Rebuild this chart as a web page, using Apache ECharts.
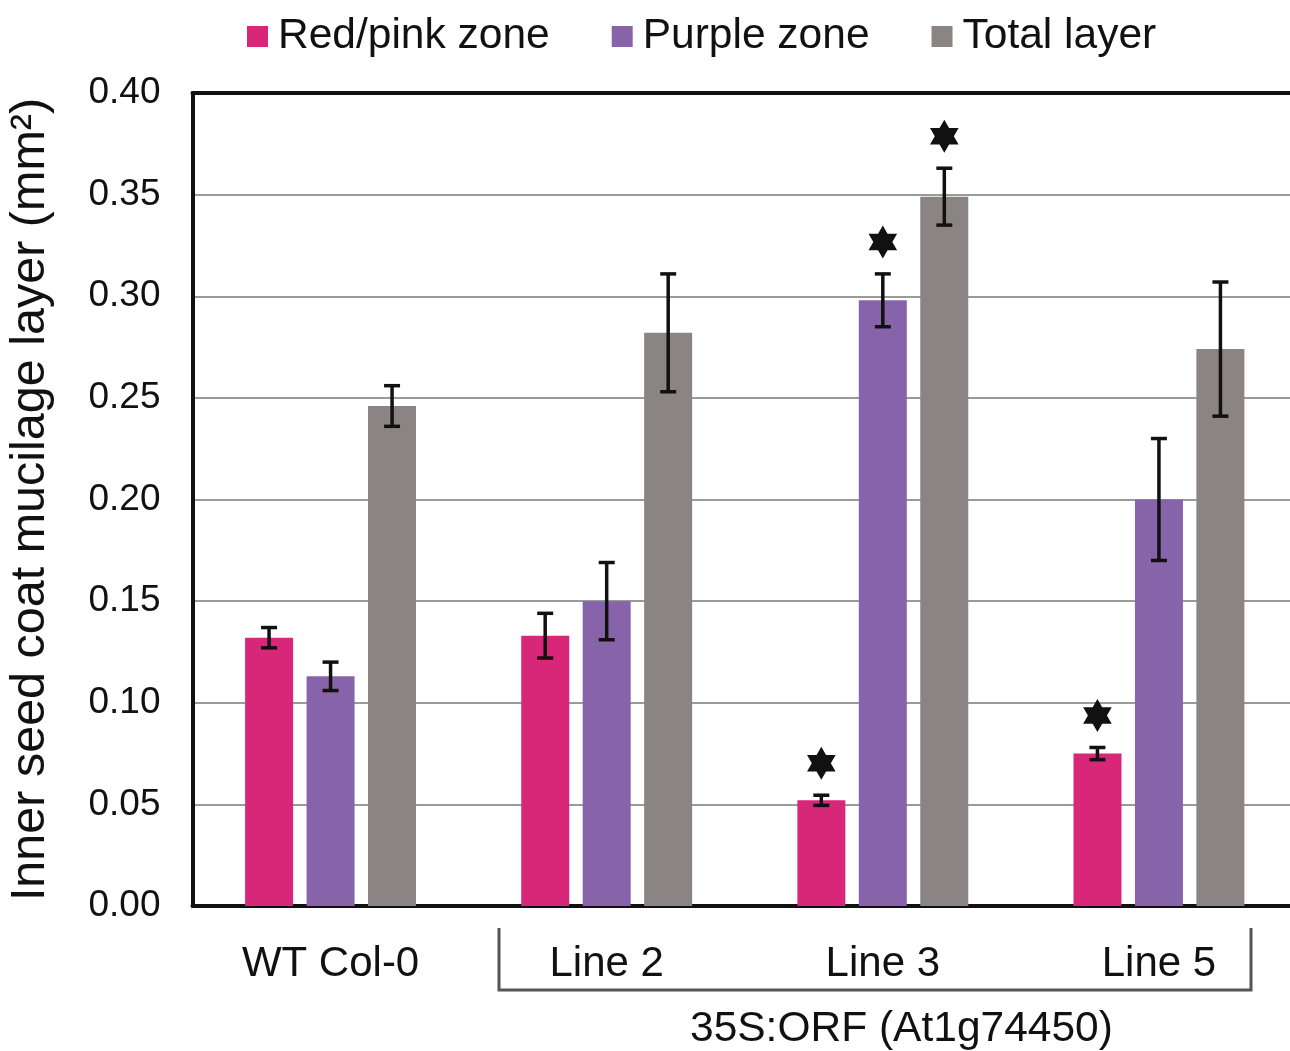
<!DOCTYPE html>
<html>
<head>
<meta charset="utf-8">
<script src="https://cdn.jsdelivr.net/npm/echarts@6/dist/echarts.min.js"></script>
<style>
  html, body { margin: 0; padding: 0; background: #ffffff; }
  #chart { width: 1290px; height: 1051px; }
</style>
</head>
<body>
<div id="chart"></div>
<script>
// data
const categories = ["WT Col-0", "Line 2", "Line 3", "Line 5"];
const seriesNames = ["Red/pink zone", "Purple zone", "Total layer"];
const pinkValues = [0.132, 0.133, 0.052, 0.075];
const purpleValues = [0.113, 0.150, 0.298, 0.200];
const totalValues = [0.246, 0.282, 0.349, 0.274];
const pinkErrors = [0.005, 0.011, 0.0025, 0.003];
const purpleErrors = [0.007, 0.019, 0.013, 0.030];
const totalErrors = [0.010, 0.029, 0.014, 0.033];
// 1 = marked with a star (significant)
const pinkStars = [0, 0, 1, 1];
const purpleStars = [0, 0, 1, 0];
const totalStars = [0, 0, 1, 0];
const yTicks = [0, 0.05, 0.1, 0.15, 0.2, 0.25, 0.3, 0.35, 0.4];

const colors = ["#d82679", "#8764aa", "#8a8584"];
const FONT = "Liberation Sans, Arial, Helvetica, sans-serif";
const BAR_W = 48;
const BAR_STEP = 61.5;

// six pointed star
function starPoints(cx, cy, R) {
  const r = R / Math.sqrt(3);
  const pts = [];
  for (let i = 0; i < 12; i++) {
    const a = -Math.PI / 2 + i * Math.PI / 6;
    const rad = i % 2 === 0 ? R : r;
    pts.push([cx + rad * Math.cos(a), cy + rad * Math.sin(a)]);
  }
  return pts;
}

const allValues = [pinkValues, purpleValues, totalValues];
const allErrors = [pinkErrors, purpleErrors, totalErrors];
const allStars = [pinkStars, purpleStars, totalStars];

const series = [];
seriesNames.forEach((name, s) => {
  series.push({
    name: name,
    type: "bar",
    barWidth: BAR_W,
    barGap: "28%",
    data: allValues[s],
    itemStyle: { color: colors[s] },
    z: 2
  });
});

// error bars + stars
seriesNames.forEach((name, s) => {
  const data = categories.map((c, i) => [i, allValues[s][i], allErrors[s][i], allStars[s][i]]);
  series.push({
    type: "custom",
    data: data,
    z: 5,
    silent: true,
    renderItem: function (params, api) {
      const i = api.value(0);
      const v = api.value(1);
      const e = api.value(2);
      const star = api.value(3);
      const x = api.coord([i, 0])[0] + (s - 1) * BAR_STEP;
      const yTop = api.coord([i, v + e])[1];
      const yBot = api.coord([i, v - e])[1];
      const st = { stroke: "#111", lineWidth: 3.5 };
      const children = [
        { type: "line", shape: { x1: x, y1: yTop, x2: x, y2: yBot }, style: st },
        { type: "line", shape: { x1: x - 8, y1: yTop, x2: x + 8, y2: yTop }, style: st },
        { type: "line", shape: { x1: x - 8, y1: yBot, x2: x + 8, y2: yBot }, style: st }
      ];
      if (star) {
        children.push({
          type: "polygon",
          shape: { points: starPoints(x, yTop - 32, 16.5) },
          style: { fill: "#111" }
        });
      }
      return { type: "group", children: children };
    }
  });
});

const chart = echarts.init(document.getElementById("chart"), null, { renderer: "canvas" });
chart.setOption({
  backgroundColor: "#ffffff",
  animation: false,
  textStyle: { fontFamily: FONT },
  legend: {
    data: seriesNames,
    left: 242,
    top: 10,
    itemWidth: 21,
    itemHeight: 21,
    itemGap: 62,
    icon: "rect",
    textStyle: { fontSize: 42.5, color: "#111", fontFamily: FONT, padding: [0, 0, 0, 5] }
  },
  grid: { left: 192.5, right: -7, top: 93, bottom: 145, outerBoundsMode: "none", containLabel: false },
  xAxis: [{
    type: "category",
    data: categories,
    axisLine: { lineStyle: { color: "#111", width: 4 } },
    axisTick: { show: false },
    axisLabel: { fontSize: 42, color: "#111", margin: 37, fontFamily: FONT }
  }, {
    type: "category",
    position: "top",
    data: categories,
    axisLine: { lineStyle: { color: "#111", width: 4 } },
    axisTick: { show: false },
    axisLabel: { show: false }
  }],
  yAxis: {
    type: "value",
    min: yTicks[0],
    max: yTicks[yTicks.length - 1],
    interval: 0.05,
    name: "Inner seed coat mucilage layer (mm²)",
    nameLocation: "middle",
    nameGap: 137,
    nameTextStyle: { fontSize: 48.5, color: "#111", fontFamily: FONT },
    axisLine: { show: true, lineStyle: { color: "#111", width: 4 } },
    axisTick: { show: false },
    axisLabel: {
      fontSize: 37, color: "#111", margin: 32, fontFamily: FONT,
      formatter: v => v.toFixed(2)
    },
    splitLine: { lineStyle: { color: "#9a9a9a", width: 2 } }
  },
  graphic: [
    {
      type: "polyline",
      shape: { points: [[499, 928], [499, 990], [1251, 990], [1251, 928]] },
      style: { stroke: "#555", lineWidth: 3, fill: null }
    },
    {
      type: "text",
      left: 690,
      top: 1008,
      style: { text: "35S:ORF (At1g74450)", fontSize: 42.5, fill: "#111", fontFamily: FONT }
    }
  ],
  series: series
});
</script>
</body>
</html>
